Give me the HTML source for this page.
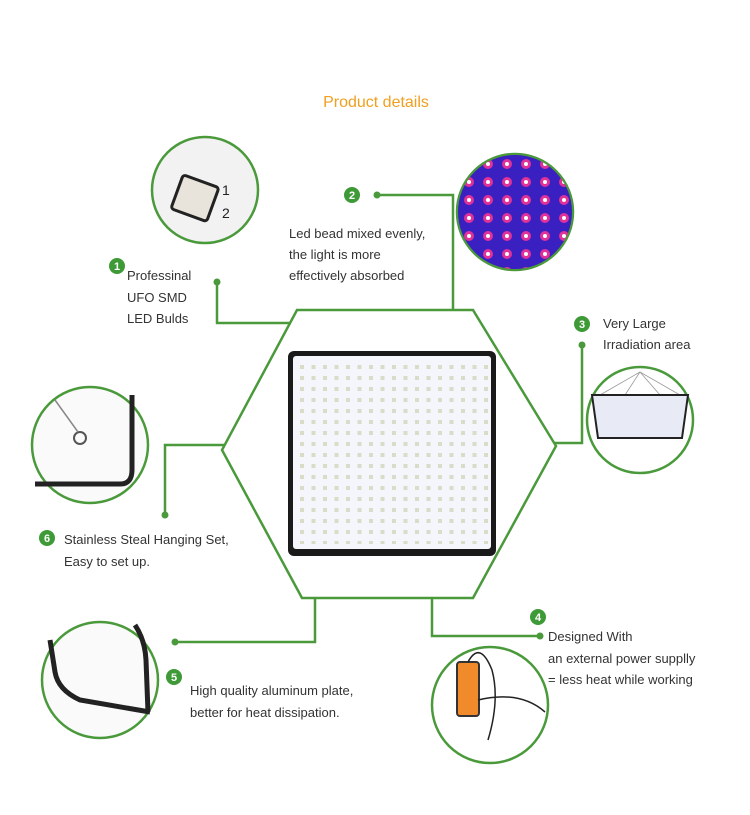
<!DOCTYPE html>
<html><head><meta charset="utf-8"><style>
html,body{margin:0;padding:0;background:#fff}
svg{display:block}
text{font-family:"Liberation Sans",sans-serif}
.t{font-size:13px;fill:#333}
.n{font-size:11px;fill:#fff;font-weight:bold;text-anchor:middle}
</style></head><body>
<svg width="750" height="815" viewBox="0 0 750 815" xmlns="http://www.w3.org/2000/svg">
<defs>
<pattern id="leds" x="297" y="362" width="11.5" height="11" patternUnits="userSpaceOnUse">
<rect x="3" y="3" width="4" height="4" fill="#d8dcc8"/></pattern>
<pattern id="rb" x="460" y="155" width="19" height="18" patternUnits="userSpaceOnUse">
<rect width="19" height="18" fill="#3a20c0"/>
<circle cx="9" cy="9" r="5" fill="#e0309a"/><circle cx="9" cy="9" r="2" fill="#fff"/></pattern>
<clipPath id="c2"><circle cx="515" cy="212" r="57"/></clipPath>
</defs>
<rect width="750" height="815" fill="#fff"/>
<text x="376" y="107" text-anchor="middle" font-size="16" fill="#f0a020">Product details</text>

<g fill="none" stroke="#4a9a3c" stroke-width="2.5">
<polygon points="297,310 473,310 556,446 473,598 302,598 222,450"/>
<polyline points="217,282 217,323 291,323"/>
<polyline points="377,195 453,195 453,310"/>
<polyline points="582,345 582,443 554,443"/>
<polyline points="165,515 165,445 224,445"/>
<polyline points="175,642 315,642 315,598"/>
<polyline points="540,636 432,636 432,598"/>
</g>
<g fill="#4a9a3c">
<circle cx="217" cy="282" r="3.5"/><circle cx="377" cy="195" r="3.5"/><circle cx="582" cy="345" r="3.5"/>
<circle cx="165" cy="515" r="3.5"/><circle cx="175" cy="642" r="3.5"/><circle cx="540" cy="636" r="3.5"/>
</g>

<!-- panel -->
<rect x="288" y="351" width="208" height="205" rx="6" fill="#1a1a1a"/>
<rect x="293" y="356" width="198" height="193" rx="3" fill="#f4f6fb"/>
<rect x="295" y="358" width="194" height="186" fill="url(#leds)"/>

<!-- circles -->
<g stroke="#4a9a3c" stroke-width="2.5">
<circle cx="205" cy="190" r="53" fill="#f2f2f2"/>
<circle cx="515" cy="212" r="58" fill="#3a20c0"/>
<circle cx="640" cy="420" r="53" fill="#fff"/>
<circle cx="90" cy="445" r="58" fill="#fafafa"/>
<circle cx="100" cy="680" r="58" fill="#fafafa"/>
<circle cx="490" cy="705" r="58" fill="#fff"/>
</g>
<rect x="455" y="150" width="120" height="125" fill="url(#rb)" clip-path="url(#c2)"/>
<!-- circle1 detail -->
<g transform="rotate(20 195 195)"><rect x="177" y="180" width="38" height="36" rx="3" fill="#e8e4dc" stroke="#222" stroke-width="3"/></g>
<text x="222" y="195" font-size="14" fill="#222">1</text><text x="222" y="218" font-size="14" fill="#222">2</text>
<!-- circle3 detail -->
<g stroke="#999" stroke-width="0.8"><line x1="640" y1="372" x2="600" y2="395"/><line x1="640" y1="372" x2="680" y2="395"/><line x1="640" y1="372" x2="625" y2="395"/><line x1="640" y1="372" x2="660" y2="395"/></g>
<polygon points="592,395 688,395 682,438 598,438" fill="#e8ebf5" stroke="#222" stroke-width="2"/>
<!-- circle6 detail -->
<path d="M35,484 L120,484 Q132,484 132,470 L132,395" fill="none" stroke="#222" stroke-width="5"/>
<circle cx="80" cy="438" r="6" fill="none" stroke="#555" stroke-width="2"/><line x1="55" y1="400" x2="78" y2="432" stroke="#888" stroke-width="1.5"/>
<!-- circle5 detail -->
<path d="M50,640 L55,672 Q58,690 80,700 L150,712" fill="none" stroke="#222" stroke-width="5"/>
<path d="M135,625 Q145,640 146,660 L148,712" fill="none" stroke="#222" stroke-width="5"/>
<!-- circle4 detail -->
<rect x="457" y="662" width="22" height="54" rx="3" fill="#f08a2a" stroke="#333" stroke-width="2"/>
<path d="M468,662 Q480,640 492,670 Q500,700 488,740 M478,700 Q520,690 545,712" fill="none" stroke="#222" stroke-width="1.5"/>

<!-- badges -->
<g fill="#3e9a36">
<circle cx="117" cy="266" r="8"/><circle cx="352" cy="195" r="8"/><circle cx="582" cy="324" r="8"/>
<circle cx="47" cy="538" r="8"/><circle cx="174" cy="677" r="8"/><circle cx="538" cy="617" r="8"/>
</g>
<text class="n" x="117" y="270">1</text><text class="n" x="352" y="199">2</text><text class="n" x="582" y="328">3</text>
<text class="n" x="47" y="542">6</text><text class="n" x="174" y="681">5</text><text class="n" x="538" y="621">4</text>

<text class="t" x="127" y="280">Professinal</text>
<text class="t" x="127" y="302">UFO SMD</text>
<text class="t" x="127" y="323">LED Bulds</text>
<text class="t" x="289" y="238">Led bead mixed evenly,</text>
<text class="t" x="289" y="259">the light is more</text>
<text class="t" x="289" y="280">effectively absorbed</text>
<text class="t" x="603" y="328">Very Large</text>
<text class="t" x="603" y="349">Irradiation area</text>
<text class="t" x="64" y="544">Stainless Steal Hanging Set,</text>
<text class="t" x="64" y="566">Easy to set up.</text>
<text class="t" x="190" y="695">High quality aluminum plate,</text>
<text class="t" x="190" y="717">better for heat dissipation.</text>
<text class="t" x="548" y="641">Designed With</text>
<text class="t" x="548" y="663">an external power supplly</text>
<text class="t" x="548" y="684">= less heat while working</text>
</svg>
</body></html>
